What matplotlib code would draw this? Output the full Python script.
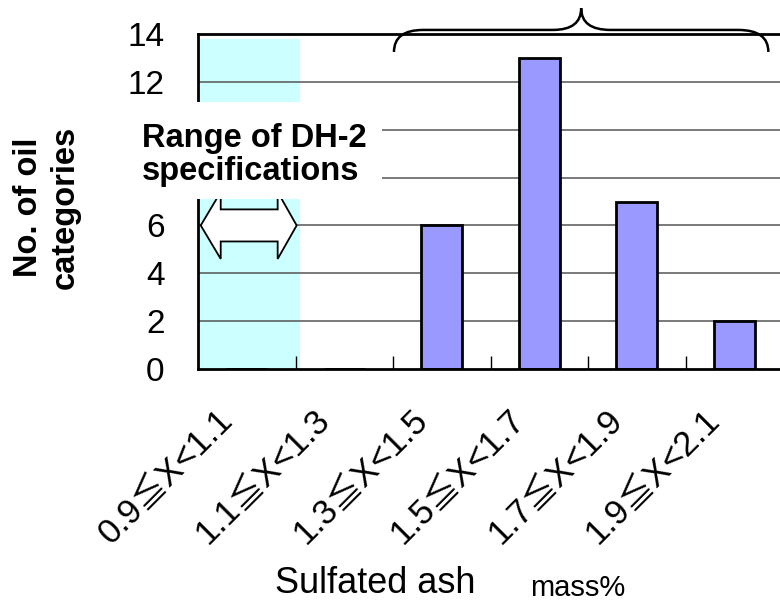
import numpy as np
import matplotlib.pyplot as plt
import matplotlib.transforms as mtransforms
from matplotlib.patches import Rectangle, Polygon, PathPatch
from matplotlib.path import Path

plt.rcParams['font.family'] = ['Liberation Sans', 'Noto Sans CJK JP', 'DejaVu Sans']

# data
categories = ['0.9≦X<1.1', '1.1≦X<1.3', '1.3≦X<1.5',
              '1.5≦X<1.7', '1.7≦X<1.9', '1.9≦X<2.1']
counts = [0, 0, 6, 13, 7, 2]
y_ticks = [0, 2, 4, 6, 12, 14]

W, H = 780, 609


def fx(px):
    return px / W


def fy(py):
    return 1 - py / H


fig = plt.figure(figsize=(7.8, 6.09), dpi=100)
ax = fig.add_axes([fx(198), fy(369), fx(783) - fx(198), fy(34) - fy(369)])

x = np.arange(len(categories))
ax.set_xlim(-0.5, len(categories) - 0.5)
ax.set_ylim(0, 14)

# spec range shading
ax.add_patch(Rectangle((-0.5, 0), 1.05, 13.8, facecolor='#ccffff',
                       edgecolor='none', zorder=0))

for v in [2, 4, 6, 8, 10, 12]:
    ax.axhline(v, color='#555555', lw=1.1, zorder=1)

ax.bar(x, counts, width=0.42, color='#9999ff', edgecolor='black',
       linewidth=2, zorder=3)

ax.spines['right'].set_visible(False)
for s in ['left', 'bottom', 'top']:
    ax.spines[s].set_linewidth(2)
    ax.spines[s].set_zorder(4)

ax.set_yticks(y_ticks)
ax.tick_params(axis='y', length=0, pad=24, labelsize=24)
ax.set_xticks(x)
ax.set_xticklabels(categories, rotation=45, ha='right', va='center',
                   rotation_mode='anchor', fontsize=25)
ax.tick_params(axis='x', which='major', length=0, pad=33)
ax.set_xticks(x[:-1] + 0.5, minor=True)
ax.tick_params(axis='x', which='minor', direction='in', length=9.5, width=1)
shift = mtransforms.ScaledTranslation(-14 / 72, 0, fig.dpi_scale_trans)
for lab in ax.get_xticklabels():
    lab.set_transform(lab.get_transform() + shift)

# double arrow
ax.add_patch(Polygon([(-0.472, 6.0), (-0.267, 7.4), (-0.267, 6.67),
                      (0.317, 6.67), (0.317, 7.4), (0.512, 6.0),
                      (0.317, 4.6), (0.317, 5.33), (-0.267, 5.33),
                      (-0.267, 4.6)], closed=True, facecolor='white',
                     edgecolor='black', lw=1.3, zorder=5))

# brace above the chart
verts = [(1.51, 13.25), (1.51, 14.17), (1.81, 14.17), (3.14, 14.17),
         (3.43, 14.17), (3.43, 15.08), (3.43, 14.17), (3.73, 14.17),
         (5.04, 14.17), (5.35, 14.17), (5.35, 13.25)]
codes = [Path.MOVETO, Path.CURVE3, Path.CURVE3, Path.LINETO,
         Path.CURVE3, Path.CURVE3, Path.CURVE3, Path.CURVE3,
         Path.LINETO, Path.CURVE3, Path.CURVE3]
ax.add_patch(PathPatch(Path(verts, codes), facecolor='none',
                       edgecolor='black', lw=1.8, clip_on=False, zorder=6))

# white box with the spec label
fig.patches.append(Rectangle((fx(135), fy(199)), fx(382) - fx(135),
                             fy(102) - fy(199), facecolor='white',
                             edgecolor='none', transform=fig.transFigure,
                             zorder=10))
fig.text(fx(142), fy(155), 'Range of DH-2\nspecifications', fontsize=23.5,
         fontweight='bold', ha='left', va='center', linespacing=1.05,
         zorder=11)

fig.text(fx(47), fy(207), 'No. of oil\ncategories', fontsize=23.5,
         fontweight='bold', rotation=90, ha='center', va='center',
         multialignment='center', linespacing=1.25)

fig.text(fx(275), fy(601), 'Sulfated ash', fontsize=26, ha='left',
         va='bottom')
fig.text(fx(530), fy(602), 'mass%', fontsize=21, ha='left', va='bottom')

fig.savefig('out.png', dpi=100)
